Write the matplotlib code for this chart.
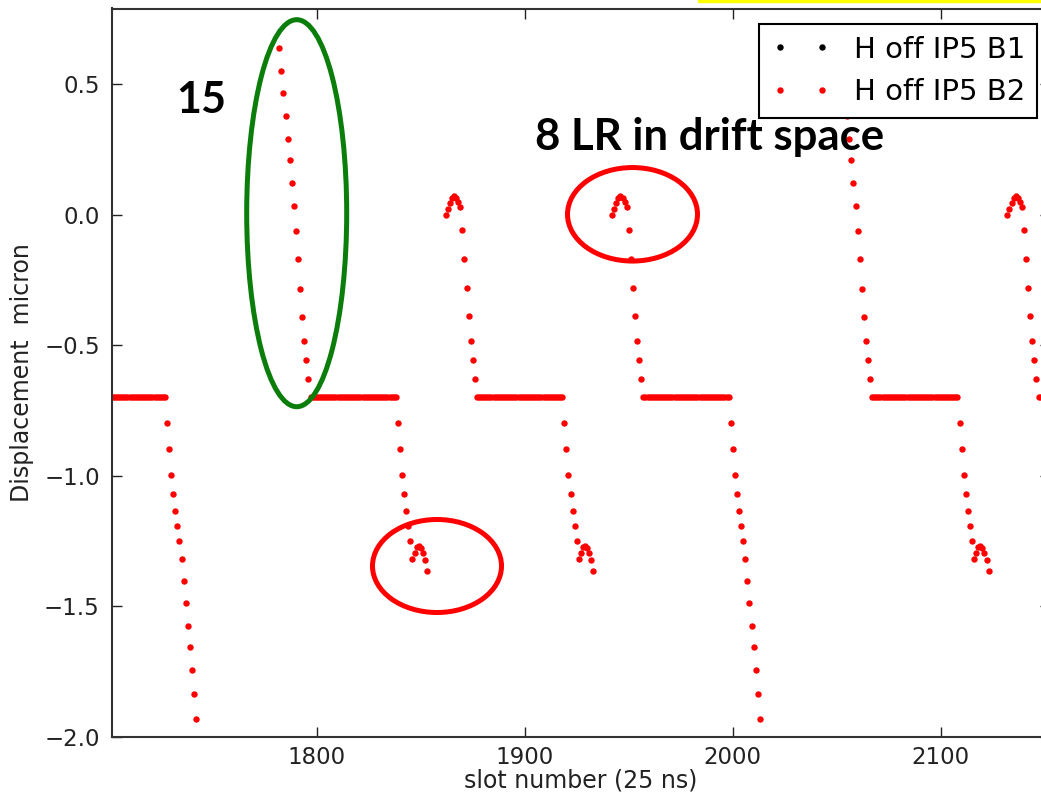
import numpy as np
import matplotlib.pyplot as plt
from matplotlib.patches import Ellipse, Rectangle

# Werte (Displacement in micron)
plateau_y = -0.70
plateau_len = 42

# Abfall am Zugende ohne Spitze
drop_plain = [-0.797, -0.897, -0.996, -1.072, -1.136, -1.193, -1.252, -1.321,
              -1.402, -1.489, -1.577, -1.657, -1.745, -1.838, -1.931]
# Abfall am Zugende mit 8 LR im Driftraum
drop_cusp = [-0.797, -0.897, -0.996, -1.072, -1.136, -1.193, -1.252, -1.321,
             -1.295, -1.275, -1.268, -1.277, -1.297, -1.325, -1.367]
# Zuganfang nach langer Luecke (15 Bunches)
rise_full = [0.638, 0.550, 0.464, 0.377, 0.290, 0.207, 0.121, 0.033,
             -0.065, -0.170, -0.286, -0.391, -0.484, -0.559, -0.630]
# Zuganfang nach kurzer Luecke
rise_cusp = [-0.003, 0.020, 0.043, 0.062, 0.070, 0.062, 0.047, 0.028,
             -0.060, -0.171, -0.281, -0.390, -0.484, -0.559, -0.630]

# Startslot jedes Abschnitts
segments = [("plateau", 1686), ("drop_plain", 1728), ("rise_full", 1782),
            ("plateau", 1797), ("drop_cusp", 1839), ("rise_cusp", 1862),
            ("plateau", 1877), ("drop_cusp", 1919), ("rise_cusp", 1942),
            ("plateau", 1957), ("drop_plain", 1999), ("rise_full", 2052),
            ("plateau", 2067), ("drop_cusp", 2109), ("rise_cusp", 2132),
            ("plateau", 2147)]

shapes = {"plateau": [plateau_y] * plateau_len, "drop_plain": drop_plain,
          "drop_cusp": drop_cusp, "rise_full": rise_full, "rise_cusp": rise_cusp}

slots = []
disp = []
for name, start in segments:
    vals = shapes[name]
    slots += list(range(start, start + len(vals)))
    disp += vals
slots = np.array(slots)
disp = np.array(disp)

W, H = 1041, 793
fig = plt.figure(figsize=(W / 100, H / 100), dpi=100)
ax = fig.add_axes([112.3 / W, 1 - 736.7 / H, (1050 - 112.3) / W, (736.7 - 8.5) / H])

# B1 liegt genau unter B2 und ist daher nicht zu sehen
ax.plot(slots, disp, "o", color="black", ms=3.5, mew=0, label="H off IP5 B1")
ax.plot(slots, disp, "o", color="red", ms=4.6, mew=0, label="H off IP5 B2")

ax.set_xlim(1701.7, 2152.5)
ax.set_ylim(-2.0, 0.789)
ax.set_xticks([1800, 1900, 2000, 2100])
ax.set_yticks([-2.0, -1.5, -1.0, -0.5, 0.0, 0.5])
ax.tick_params(direction="in", top=True, right=True, length=7, width=1,
               labelsize=16.5, colors="#222222")
ax.tick_params(axis="x", pad=7)
ax.tick_params(axis="y", pad=9)
for sp in ax.spines.values():
    sp.set_linewidth(1.5)
    sp.set_color("#333333")

ax.set_xlabel("slot number (25 ns)", fontsize=17, color="#222222", labelpad=-0.5)
ax.set_ylabel("Displacement  micron", fontsize=17, color="#222222", labelpad=7)

leg = ax.legend(numpoints=2, fontsize=21, loc="upper right",
                bbox_to_anchor=(1036.7 / W, 1 - 24 / H), bbox_transform=fig.transFigure,
                borderaxespad=0, fancybox=False, framealpha=1, labelspacing=0.5,
                handlelength=2.04, handletextpad=0.8, borderpad=0.4)
leg.get_frame().set_edgecolor("black")
leg.get_frame().set_linewidth(1.5)
leg.legend_handles[0].set_markersize(4.6)

# Markierungen wie auf der Folie
fig.text(176 / W, 1 - 113 / H, "15", fontsize=31, fontweight="bold", family="Lato")
fig.text(535 / W, 1 - 150 / H, "8 LR in drift space", fontsize=31.5,
         fontweight="bold", family="Lato")

fig.add_artist(Ellipse((296.7 / W, 1 - 213.2 / H), 100 / W, 387 / H,
                       transform=fig.transFigure, fill=False, ec="#0a7d0a", lw=3.6))
fig.add_artist(Ellipse((632.5 / W, 1 - 214.3 / H), 130 / W, 93.5 / H,
                       transform=fig.transFigure, fill=False, ec="red", lw=3.6))
fig.add_artist(Ellipse((437 / W, 1 - 566 / H), 129 / W, 93 / H,
                       transform=fig.transFigure, fill=False, ec="red", lw=3.6))
fig.add_artist(Rectangle((698 / W, 1 - 1.5 / H), (W - 698) / W, 1.5 / H,
                         transform=fig.transFigure, color="yellow"))

fig.savefig("out.png", dpi=100)
